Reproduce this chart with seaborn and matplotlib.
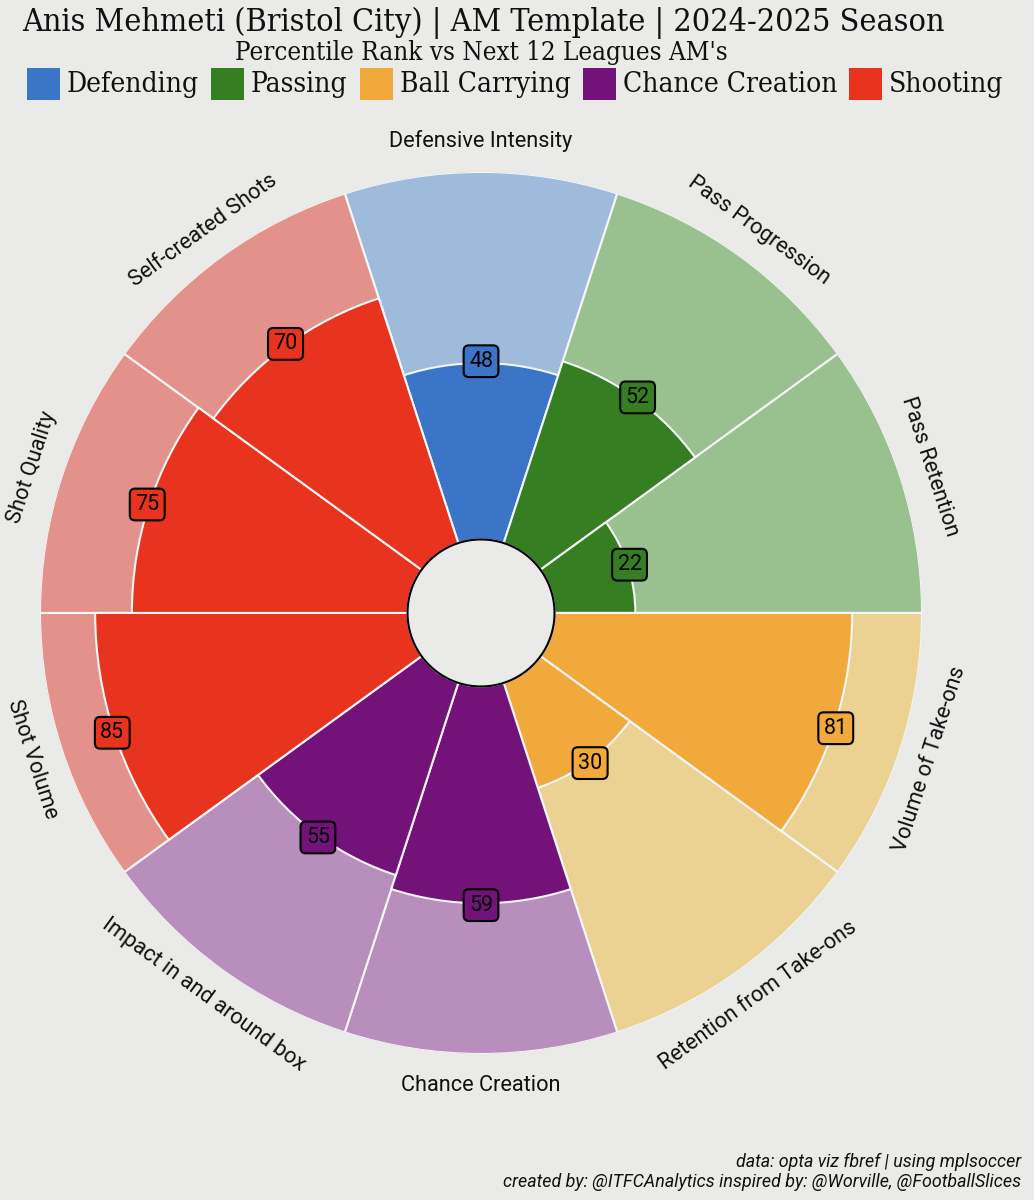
import matplotlib.pyplot as plt
import numpy as np
import seaborn as sns
from matplotlib.patches import Rectangle

# data
params = ["Defensive Intensity", "Pass Progression", "Pass Retention",
          "Volume of Take-ons", "Retention from Take-ons", "Chance Creation",
          "Impact in and around box", "Shot Volume", "Shot Quality",
          "Self-created Shots"]
values = [48, 52, 22, 81, 30, 59, 55, 85, 75, 70]
groups = ["Defending", "Passing", "Passing", "Ball Carrying", "Ball Carrying",
          "Chance Creation", "Chance Creation", "Shooting", "Shooting",
          "Shooting"]
group_names = ["Defending", "Passing", "Ball Carrying", "Chance Creation",
               "Shooting"]

# colours per group (slice colour, background slice colour)
main_cols = {"Defending": "#3a75c7", "Passing": "#367e22",
             "Ball Carrying": "#f2a93b", "Chance Creation": "#73137a",
             "Shooting": "#e8331f"}
light_cols = {"Defending": "#9ebbdb", "Passing": "#98c18f",
              "Ball Carrying": "#ebd293", "Chance Creation": "#b88ebc",
              "Shooting": "#e2928b"}

BG = "#eaeae8"
sns.set_theme(style="white", rc={"figure.facecolor": BG, "axes.facecolor": BG,
                                 "savefig.facecolor": BG})
plt.rcParams["font.family"] = ["Roboto", "DejaVu Sans"]
SLAB = ["DejaVu Serif"]

fig = plt.figure(figsize=(10.34, 12), dpi=100)
ax = fig.add_axes([0.0387, 0.1217, 0.853, 0.735], projection="polar")
ax.set_ylim(-20, 100)
ax.set_axis_off()

n = len(params)
width = 2 * np.pi / n
theta = np.deg2rad(90 - 360 / n * np.arange(n))
mains = [main_cols[g] for g in groups]
lights = [light_cols[g] for g in groups]

# background slices then the value slices
ax.bar(theta, 100, width=width, bottom=0, color=lights,
       edgecolor="#f6f6f6", linewidth=1.5, zorder=1)
ax.bar(theta, values, width=width, bottom=0, color=mains,
       edgecolor="#f6f6f6", linewidth=1.5, zorder=2)

# inner circle
circ = np.linspace(0, 2 * np.pi, 300)
ax.fill(circ, np.zeros_like(circ), facecolor=BG, edgecolor="black",
        linewidth=1.5, zorder=5)

for t, p, v, c in zip(theta, params, values, mains):
    deg = np.rad2deg(t)
    rot = deg - 90 if 0 <= deg % 360 <= 180 else deg + 90
    ax.text(t, 108.5, p, rotation=rot, rotation_mode="anchor",
            ha="center", va="center", fontsize=15.7, color="#111111")
    ax.text(t, v + 0.5, str(v), ha="center", va="center", fontsize=15.5,
            color="black", zorder=6,
            bbox=dict(boxstyle="round,pad=0.25", facecolor=c,
                      edgecolor="black", linewidth=1.5))

fig.canvas.draw()
renderer = fig.canvas.get_renderer()
W, H = fig.bbox.width, fig.bbox.height


def fit_text(txt, target_px):
    # shrink/grow a text until it spans the wanted width in pixels
    w = txt.get_window_extent(renderer).width
    txt.set_fontsize(txt.get_fontsize() * target_px / w)


# titles
title = fig.text(0.467, 0.981, "Anis Mehmeti (Bristol City) | AM Template | "
                 "2024-2025 Season", ha="center", va="center", fontsize=25,
                 family=SLAB, stretch="condensed", color="#111111")
fit_text(title, 920)
sub = fig.text(0.466, 0.9565, "Percentile Rank vs Next 12 Leagues AM's",
               ha="center", va="center", fontsize=19, family=SLAB,
               stretch="condensed", color="#111111")
fit_text(sub, 494)

# legend row, squares followed by labels
x = 27
yc = 1200 - 84
for g in group_names:
    fig.patches.append(Rectangle((x / W, (yc - 16) / H), 33 / W, 32 / H,
                                 transform=fig.transFigure,
                                 facecolor=main_cols[g], edgecolor="none"))
    txt = fig.text((x + 40) / W, yc / H, g, ha="left", va="center",
                   fontsize=20.2, family=SLAB, stretch="condensed",
                   color="#111111")
    x = x + 40 + txt.get_window_extent(renderer).width + 12

fig.text(0.988, 0.032, "data: opta viz fbref | using mplsoccer", ha="right",
         va="center", fontsize=12.9, style="italic", color="#111111")
fig.text(0.988, 0.015, "created by: @ITFCAnalytics inspired by: @Worville, "
         "@FootballSlices", ha="right", va="center", fontsize=12.9,
         style="italic", color="#111111")

fig.savefig("out.png", dpi=100)
